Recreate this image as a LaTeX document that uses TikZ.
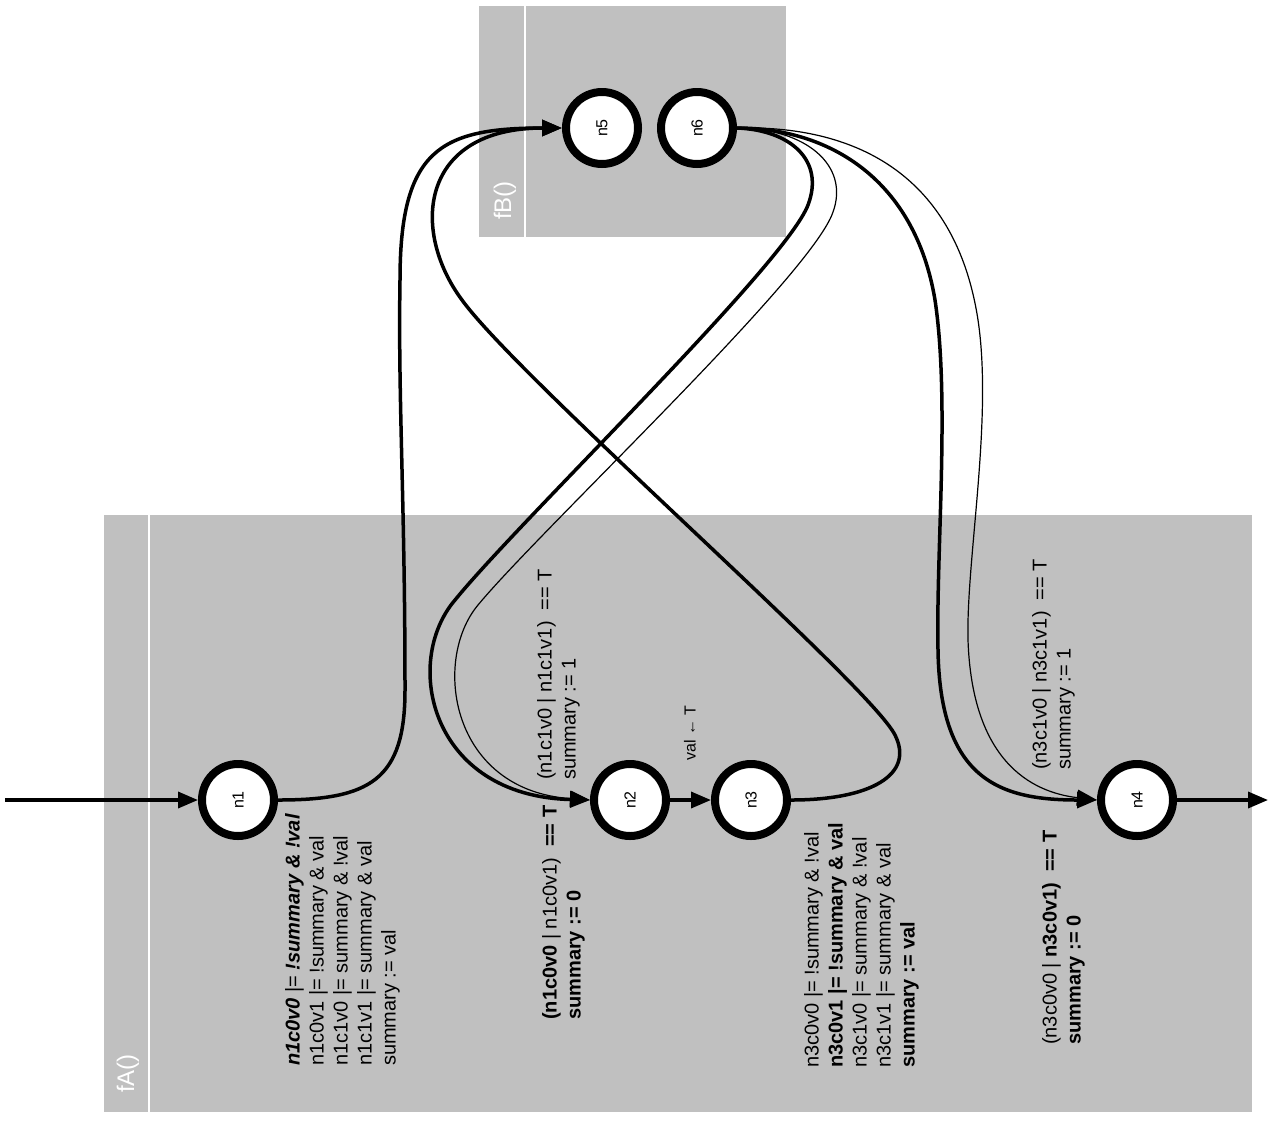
\documentclass[tikz,border=0pt]{standalone}
\usepackage{fontspec}
\setmainfont{Liberation Sans}
\usetikzlibrary{arrows.meta}
\definecolor{clgray}{HTML}{C0C0C0}
\begin{document}
\begin{tikzpicture}[x=1pt,y=-1pt,
  st/.style={circle,draw,line width=8pt,fill=white,minimum size=72pt,inner sep=0pt,font=\fontsize{16}{18}\selectfont},
  tipa/.tip={Triangle[length=20pt,width=16pt]},
  thickedge/.style={line width=3.5pt,-tipa},
  thinedge/.style={line width=1.2pt,-tipa},
  lbl/.style={rotate=90,anchor=north west,inner sep=0pt,align=left,font=\fontsize{20}{24}\selectfont},
  clname/.style={rotate=90,anchor=west,inner sep=0pt,text=white,font=\fontsize{24}{28}\selectfont}
]
\fill[white] (0,0) rectangle (1273,1120);
\useasboundingbox (0,0) rectangle (1273,1120);
% clusters
\fill[clgray] (104,515) rectangle (1252,1112);
\draw[white,line width=2pt] (149,515) -- (149,1112);
\node[clname] (cA) at (128,1093) {fA()};
\fill[clgray] (479,6) rectangle (786,237);
\draw[white,line width=2pt] (525,6) -- (525,237);
\node[clname] (cB) at (505,220) {fB()};
% nodes
\node[st] (n1) at (238,800) {\rotatebox{90}{n1}};
\node[st] (n2) at (630,800) {\rotatebox{90}{n2}};
\node[st] (n3) at (751,800) {\rotatebox{90}{n3}};
\node[st] (n4) at (1137,800) {\rotatebox{90}{n4}};
\node[st] (n5) at (602,128) {\rotatebox{90}{n5}};
\node[st] (n6) at (697,128) {\rotatebox{90}{n6}};
\coordinate (in) at (5,800);
\coordinate (out) at (1268,800);
% edges
\draw[thickedge] (in) -- (n1);
\draw[thickedge] (n2) -- (n3);
\draw[thickedge] (n4) -- (out);
\draw[thickedge] (n1.east) .. controls (370,800) and (405,780) .. (405,690)
  .. controls (405,500) and (398,400) .. (400,280)
  .. controls (400,150) and (440,128) .. (n5.west);
\draw[thickedge] (n3.east) .. controls (870,800) and (915,775) .. (895,735)
  .. controls (870,685) and (520,380) .. (462,300)
  .. controls (410,230) and (420,128) .. (n5.west);
\draw[thickedge] (n6.east) .. controls (790,130) and (825,160) .. (808,205)
  .. controls (785,265) and (520,520) .. (455,600)
  .. controls (402,662) and (430,796) .. (n2.west);
\draw[thinedge] (n6.east) .. controls (805,128) and (850,165) .. (833,212)
  .. controls (812,275) and (540,530) .. (478,605)
  .. controls (432,660) and (450,790) .. (n2.west);
\draw[thickedge] (n6.east) .. controls (830,128) and (915,180) .. (935,300)
  .. controls (950,400) and (936,550) .. (938,650)
  .. controls (940,780) and (1000,800) .. (n4.west);
\draw[thinedge] (n6.east) .. controls (850,125) and (955,170) .. (978,320)
  .. controls (993,420) and (966,560) .. (968,640)
  .. controls (972,760) and (1030,792) .. (n4.west);
% labels
\node[lbl] (l1) at (285,1066) {\textbf{\textit{n1c0v0}} |= \textbf{\textit{!summary \& !val}}\\n1c0v1 |= !summary \& val\\n1c1v0 |= summary \& !val\\n1c1v1 |= summary \& val\\summary := val};
\node[lbl] (l3) at (804,1068) {n3c0v0 |= !summary \& !val\\\textbf{n3c0v1 |= !summary \& val}\\n3c1v0 |= summary \& !val\\n3c1v1 |= summary \& val\\\textbf{summary := val}};
\node[lbl] (l2a) at (542,1020) {\textbf{(n1c0v0} | n1c0v1)\ \ \textbf{== T}\\\textbf{summary := 0}};
\node[lbl] (l2b) at (537,780) {(n1c1v0 | n1c1v1)\ \ == T\\summary := 1};
\node[lbl] (l4a) at (1042,1045) {(n3c0v0 | \textbf{n3c0v1)\ \ == T}\\\textbf{summary := 0}};
\node[lbl] (l4b) at (1032,770) {(n3c1v0 | n3c1v1)\ \ == T\\summary := 1};
\node[rotate=90,inner sep=0pt,font=\fontsize{16}{18}\selectfont] (vl) at (690,733) {val ← T};
\end{tikzpicture}
\end{document}
